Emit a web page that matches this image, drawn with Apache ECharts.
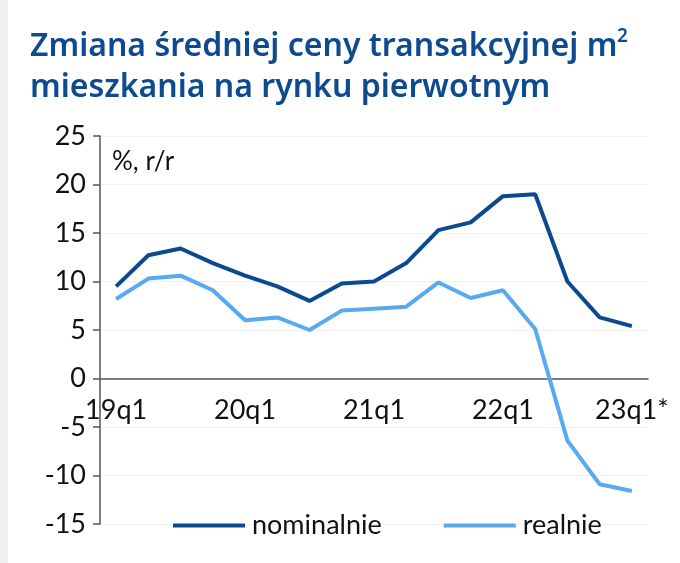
<!DOCTYPE html>
<html><head><meta charset="utf-8">
<script src="https://cdn.jsdelivr.net/npm/echarts@6/dist/echarts.min.js"></script>
<style>html,body{margin:0;padding:0;background:#fff}#c{width:680px;height:563px}</style>
</head><body><div id="c"></div>
<script>
var categories = ['19q1','19q2','19q3','19q4','20q1','20q2','20q3','20q4','21q1','21q2','21q3','21q4','22q1','22q2','22q3','22q4','23q1*'];
var nominalnie = [9.5,12.7,13.4,11.9,10.6,9.5,8.0,9.8,10.0,11.9,15.3,16.1,18.8,19.0,10.0,6.3,5.4];
var realnie = [8.2,10.3,10.6,9.1,6.0,6.3,5.0,7.0,7.2,7.4,9.9,8.3,9.1,5.1,-6.4,-10.9,-11.6];
var yTicks = {min:-15, max:25, interval:5};

var font = 'Lato, "Open Sans", sans-serif';
var gridTop = 136, gridBottom = 39, H = 563;
var plotH = H - gridTop - gridBottom;
var zeroOffset = -plotH * (0 - yTicks.min) / (yTicks.max - yTicks.min);

var chart = echarts.init(document.getElementById('c'));
chart.setOption({
  backgroundColor:'#fff',
  animation:false,
  graphic:[
    {type:'rect', left:0, top:0, shape:{width:8,height:563}, style:{fill:'#f0f0f0'}},
    {type:'text', left:30, top:26, style:{text:'Zmiana średniej ceny transakcyjnej m\nmieszkania na rynku pierwotnym', fill:'#0d4a8e', font:'600 32px "Noto Sans", sans-serif', lineHeight:41}},
    {type:'text', left:617, top:27, style:{text:'2', fill:'#0d4a8e', font:'600 19px "Noto Sans", sans-serif'}},
    {type:'text', left:112, top:149, style:{text:'%, r/r', fill:'#111', font:'26px '+font}}
  ],
  grid:{left:100, right:32, top:gridTop, bottom:gridBottom},
  legend:{
    left:168, top:507, itemWidth:72, itemHeight:4, itemGap:62,
    icon:'rect',
    textStyle:{fontFamily:font, fontSize:27, color:'#111', padding:[0,0,0,2]},
    data:['nominalnie','realnie']
  },
  xAxis:{
    type:'category', data:categories, boundaryGap:true, position:'bottom', offset:zeroOffset,
    axisLine:{onZero:false, lineStyle:{color:'#555', width:1.5}},
    axisTick:{interval:0, length:8, lineStyle:{color:'#555', width:1.5}},
    axisLabel:{interval:3, margin:18, fontFamily:font, fontSize:27, color:'#111'},
    splitLine:{show:false}
  },
  yAxis:{
    type:'value', min:yTicks.min, max:yTicks.max, interval:yTicks.interval,
    axisLine:{show:true, lineStyle:{color:'#555', width:1.5}},
    axisTick:{show:true, length:7, lineStyle:{color:'#555', width:1.5}},
    axisLabel:{margin:14, fontFamily:font, fontSize:27, color:'#111'},
    splitLine:{show:true, lineStyle:{color:'#f0f0f0', width:1}}
  },
  series:[
    {name:'nominalnie', type:'line', data:nominalnie, symbol:'none', color:'#0b4a8f', lineStyle:{width:4, color:'#0b4a8f'}, z:3},
    {name:'realnie', type:'line', data:realnie, symbol:'none', color:'#57aaf0', lineStyle:{width:4, color:'#57aaf0'}, z:2}
  ]
});
</script></body></html>
